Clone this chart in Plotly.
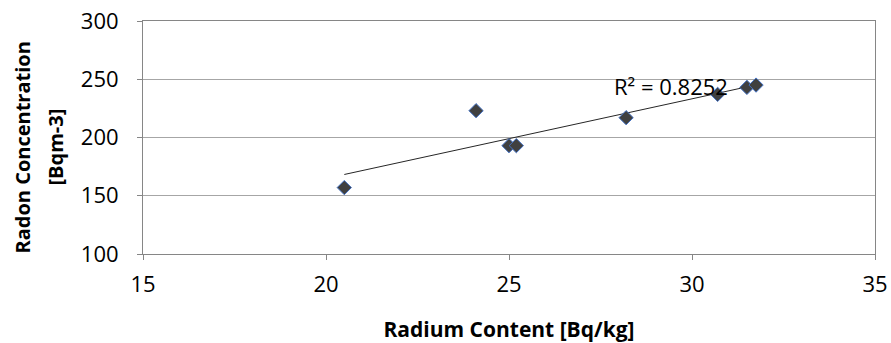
import numpy as np
import plotly.graph_objects as go

# Radium content of soil samples vs. measured radon concentration
radium = [20.5, 24.1, 25.0, 25.2, 28.2, 30.7, 31.5, 31.75]
radon = [157, 223, 193, 193, 217, 237, 243, 245]

x_ticks = [15, 20, 25, 30, 35]
y_ticks = [100, 150, 200, 250, 300]
r2_label = "R² = 0.8252"
x_title = "Radium Content [Bq/kg]"
y_title_lines = ["Radon Concentration", "[Bqm-3]"]

# Least-squares linear trendline over the sample range
slope, intercept = np.polyfit(radium, radon, 1)
fit_x = np.array([min(radium), max(radium)])
fit_y = slope * fit_x + intercept

font_family = "'Open Sans', sans-serif"

fig = go.Figure()
fig.add_trace(go.Scatter(
    x=fit_x, y=fit_y, mode="lines",
    line=dict(color="#262626", width=1),
    hoverinfo="skip", showlegend=False,
))
fig.add_trace(go.Scatter(
    x=radium, y=radon, mode="markers",
    marker=dict(symbol="diamond", size=11, color="#404040",
                line=dict(color="#4472C4", width=1)),
    showlegend=False,
))

fig.add_annotation(
    x=29.43, y=244.5, xref="x", yref="y", text=r2_label, showarrow=False,
    font=dict(family=font_family, size=22, color="#000000"),
)

# Two-line rotated y-axis title, each line centred
for line_text, px in zip(y_title_lines, [22, 55]):
    fig.add_annotation(
        x=0, xref="paper", xshift=px - 143, xanchor="center",
        y=0.5, yref="paper", yshift=-10, yanchor="middle",
        text=f"<b>{line_text}</b>", textangle=-90, showarrow=False,
        font=dict(family=font_family, size=20, color="#000000"),
    )

fig.update_xaxes(
    range=[15, 35], tickvals=x_ticks, ticks="outside", ticklen=5,
    tickcolor="#868686", showline=True, linecolor="#868686", linewidth=1,
    mirror=True, showgrid=False, zeroline=False, automargin=False,
    tickfont=dict(family=font_family, size=22, color="#000000"),
    ticklabelstandoff=6,
    title=dict(text=f"<b>{x_title}</b>", standoff=27,
               font=dict(family=font_family, size=21, color="#000000")),
)
fig.update_yaxes(
    range=[100, 300], tickvals=y_ticks, ticks="outside", ticklen=5,
    tickcolor="#868686", showline=True, linecolor="#868686", linewidth=1,
    mirror=True, showgrid=True, gridcolor="#A6A6A6", gridwidth=1,
    zeroline=False, automargin=False,
    tickfont=dict(family=font_family, size=22, color="#000000"),
    ticklabelstandoff=14,
)

fig.update_layout(
    width=891, height=343,
    margin=dict(l=143, r=16, t=21, b=89),
    paper_bgcolor="#FFFFFF", plot_bgcolor="#FFFFFF",
)

fig.write_html("out.html")
